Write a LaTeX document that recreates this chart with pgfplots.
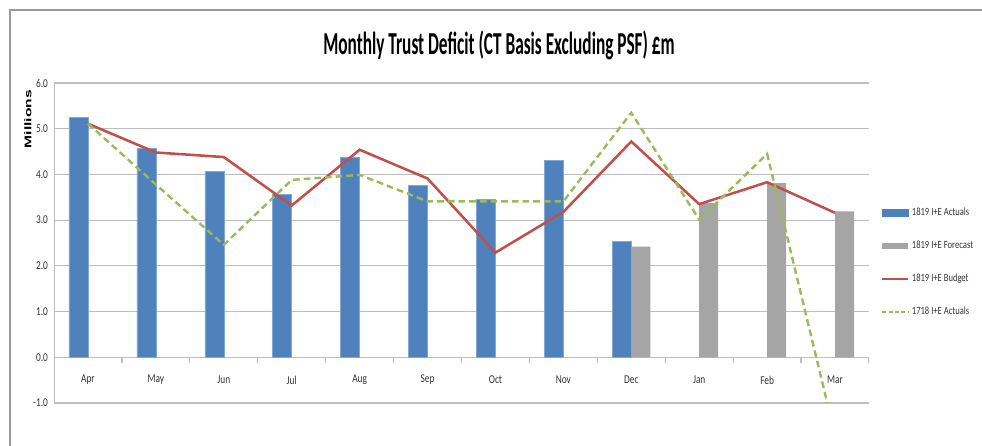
\documentclass[border=0pt]{standalone}
\usepackage{pgfplots}
\pgfplotsset{compat=1.18}
\usepackage{fontspec}
\usepackage{graphicx}
\setmainfont{Carlito}
\newfontfamily\narrow[FakeStretch=0.78]{Carlito}
\newfontfamily\titlefont[FakeStretch=0.54]{Carlito}
\newfontfamily\arialb{Liberation Sans}
\definecolor{cblue}{HTML}{4F81BD}
\definecolor{cgray}{HTML}{A5A5A5}
\definecolor{cred}{HTML}{C0504D}
\definecolor{cgreen}{HTML}{9BBB59}
\definecolor{gridc}{HTML}{BEBEBE}
\definecolor{tickc}{HTML}{333333}
\begin{document}
\begin{tikzpicture}
\useasboundingbox (0pt,0pt) rectangle (736.5pt,334.5pt);
\draw[gray!80, line width=1.2pt] (7.5pt,0pt) -- (7.5pt,327pt) -- (736.5pt,327pt);
\node[anchor=base] at (374.25pt,293.25pt) {\titlefont\bfseries\fontsize{24}{28}\selectfont Monthly Trust Deficit (CT Basis Excluding PSF) \pounds m};
\node[rotate=90] at (21pt,245.25pt) {\scalebox{1}[0.62]{\arialb\bfseries\fontsize{11.7}{14}\selectfont Millions}};
\begin{axis}[
  at={(40.5pt,32.25pt)}, anchor=south west,
  scale only axis, width=611.25pt, height=240pt,
  xmin=-0.5, xmax=11.5, ymin=-1, ymax=6,
  ytick={-1,0,...,6},
  xtick={0,...,11},
  xticklabels={Apr,May,Jun,Jul,Aug,Sep,Oct,Nov,Dec,Jan,Feb,Mar},
  major tick length=0pt,
  axis line style={draw=none},
  ymajorgrids, grid style={gridc, line width=0.9pt},
  /pgf/number format/.cd, fixed, fixed zerofill, precision=1, assume math mode=true,
  /pgfplots/.cd,
  yticklabel style={font=\narrow\fontsize{9}{11}\selectfont, text=tickc, xshift=-1pt},
  xticklabel style={font=\narrow\fontsize{9}{11}\selectfont, text=tickc, anchor=center, yshift=17.25pt},
  legend style={at={(1,0.44)}, anchor=west, xshift=6pt, draw=none, fill=none,
    font=\narrow\fontsize{8.25}{10}\selectfont, text=tickc, row sep=17.5pt,
    nodes={inner xsep=2pt, inner ysep=0pt}},
  legend cell align=left,
  clip=true,
]
\draw[gridc, line width=0.9pt] (axis cs:-0.5,-1) -- (axis cs:-0.5,6);
\pgfplotsinvokeforeach{-0.5,0.5,...,11.5}{
  \draw[gridc, line width=0.9pt] (axis cs:#1,0) -- ++(0pt,-4pt);
}
\addplot[ybar, bar width=14.25pt, bar shift=-7.125pt, fill=cblue, draw=cblue!70!white, line width=0.4pt,
  legend image code/.code={\fill[cblue] (0pt,-2.3pt) rectangle (19.5pt,2.3pt);}]
  coordinates {(0,5.24) (1,4.57) (2,4.07) (3,3.56) (4,4.37) (5,3.76) (6,3.46) (7,4.30) (8,2.54)};
\addlegendentry{1819 I+E Actuals}
\addplot[ybar, bar width=14.25pt, bar shift=7.125pt, fill=cgray, draw=none,
  legend image code/.code={\fill[cgray] (0pt,-2.3pt) rectangle (19.5pt,2.3pt);}]
  coordinates {(8,2.42) (9,3.37) (10,3.81) (11,3.19)};
\addlegendentry{1819 I+E Forecast}
\addplot[cred, line width=1.9pt, mark=none,
  legend image code/.code={\draw[cred, line width=1.5pt] (0pt,0pt) -- (19.5pt,0pt);}]
  coordinates {(0,5.11) (1,4.48) (2,4.38) (3,3.32) (4,4.54) (5,3.91) (6,2.29) (7,3.18) (8,4.72) (9,3.35) (10,3.83) (11,3.16)};
\addlegendentry{1819 I+E Budget}
\addplot[cgreen, line width=1.8pt, mark=none, dash pattern=on 5pt off 3pt,
  legend image code/.code={\draw[cgreen, line width=1.5pt, dash pattern=on 3pt off 1.8pt] (0pt,0pt) -- (19.5pt,0pt);}]
  coordinates {(0,5.11) (1,3.78) (2,2.46) (3,3.88) (4,3.99) (5,3.41) (6,3.41) (7,3.41) (8,5.35) (9,3.01) (10,4.45) (11,-1.7)};
\addlegendentry{1718 I+E Actuals}
\end{axis}
\end{tikzpicture}
\end{document}
